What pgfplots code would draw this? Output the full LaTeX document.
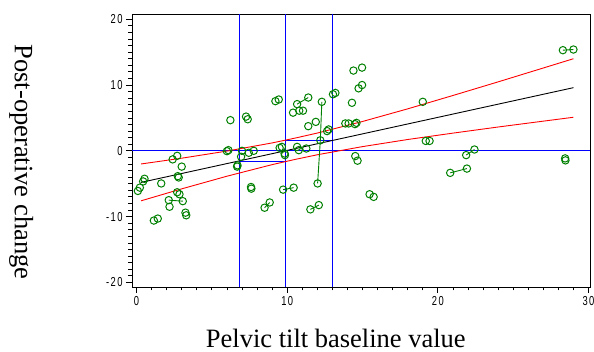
\documentclass[border=0pt]{standalone}
\usepackage{fontspec}
\setmainfont{Liberation Serif}
\setsansfont{Liberation Sans}
\usepackage{graphicx}
\usepackage{xcolor}
\usepackage{pgfplots}
\pgfplotsset{compat=1.18}
\definecolor{sasgreen}{RGB}{0,128,0}
\newcommand\tl[1]{\scalebox{0.72}[1]{\fontsize{13}{13}\selectfont\sffamily #1}}
\begin{document}
\begin{tikzpicture}
\begin{axis}[
  at={(0,0)}, anchor=south west,
  width=458pt, height=273pt, scale only axis,
  xmin=-0.3, xmax=30.1, ymin=-20.7, ymax=20.8,
  xtick={0,10,20,30}, ytick={-20,-10,0,10,20},
  xticklabels={\tl{0},\tl{1\kern2pt0},\tl{2\kern2pt0},\tl{3\kern2pt0}},
  yticklabels={\tl{-\kern2pt2\kern2pt0},\tl{-\kern2pt1\kern2pt0},\tl{0},\tl{1\kern2pt0},\tl{2\kern2pt0}},
  minor tick num=9,
  tick align=outside, tick pos=left,
  major tick length=6pt, minor tick length=3.5pt,
  every tick/.style={black, line width=0.8pt},
  axis line style={black, line width=0.9pt},
  xlabel={Pelvic tilt baseline value},
  ylabel={Post-operative change},
  label style={font=\fontsize{26.5}{30}\selectfont},
  xlabel style={at={(axis description cs:0.445,-0.2198)}, anchor=base},
  ylabel style={at={(axis description cs:-0.242,0.458)}, anchor=center, rotate=180},
  unbounded coords=jump,
]
% reference lines
\addplot[draw=blue, line width=1.2pt, mark=none] coordinates {
(-0.3,0) (30.1,0) (30.1,nan)
(6.83,-20.7) (6.83,20.8) (6.83,nan)
(9.88,-20.7) (9.88,20.8) (9.88,nan)
(13.0,-20.7) (13.0,20.8) (13.0,nan)
(6.83,-1.6) (9.88,-1.6) (9.88,nan)
(9.88,1.6) (13.0,1.6)};
% regression and confidence limits
\addplot[black, line width=0.9pt] coordinates {(0.3,-4.80) (29,9.6)};
\addplot[red, line width=0.9pt] coordinates {
(0.3,-2.00) (3,-1.12) (6,-0.04) (9,1.20) (10.5,1.92) (12,2.70) (15,4.46) (18,6.38) (21,8.41) (24,10.48) (27,12.59) (29,14.00)};
\addplot[red, line width=0.9pt] coordinates {
(0.3,-7.60) (3,-5.78) (6,-3.86) (9,-2.10) (10.5,-1.32) (12,-0.60) (15,0.64) (18,1.72) (21,2.69) (24,3.62) (27,4.51) (29,5.10)};
% data points
\addplot[only marks, mark=o, mark size=3.7pt, sasgreen, mark options={line width=1pt}] coordinates {
(2.7,-0.76) (2.4,-1.3) (3.0,-2.4) (2.74,-3.85) (2.80,-4.05) (0.53,-4.25) (0.44,-4.65)
(1.64,-4.96) (0.22,-5.6) (0.09,-6.1) (2.7,-6.3) (2.85,-6.6) (2.19,-8.5) (3.25,-9.4)
(3.3,-9.8) (1.41,-10.3) (1.15,-10.6) (6.0,-0.05) (6.1,0.1) (6.68,-2.4) (6.7,-2.2)
(6.94,-0.9) (7.0,0.0) (7.45,-0.3) (7.78,0.0) (7.6,-5.5) (7.62,-5.75) (6.23,4.66)
(7.27,5.2) (7.38,4.8) (9.22,7.55) (9.44,7.8) (10.39,5.8) (10.8,6.1) (11.05,6.1)
(13.04,8.6) (13.2,8.8) (14.4,12.2) (14.97,12.65) (14.74,9.5) (14.97,10.0) (14.3,7.3)
(11.4,3.75) (11.9,4.4) (12.65,3.0) (12.75,3.25) (13.86,4.16) (14.08,4.16) (14.5,4.06)
(14.6,4.25) (9.5,0.45) (9.65,0.6) (9.83,-0.4) (9.85,-0.65) (10.66,0.6) (10.77,0.1)
(11.27,0.35) (14.52,-0.8) (14.67,-1.5) (15.47,-6.6) (15.74,-7.0) (19.2,1.5) (19.45,1.5)
(19.0,7.45) (28.45,-1.15) (28.47,-1.45)};
% joined pairs
\pgfplotsset{pair/.style={sasgreen, line width=0.9pt, mark=o, mark size=3.7pt, mark options={line width=1pt}}}
\addplot[pair] coordinates {(2.14,-7.5) (3.07,-7.65)};
\addplot[pair] coordinates {(9.73,-5.9) (10.43,-5.6)};
\addplot[pair] coordinates {(8.5,-8.65) (8.84,-7.85)};
\addplot[pair] coordinates {(11.54,-8.9) (12.1,-8.25)};
\addplot[pair] coordinates {(20.82,-3.35) (21.93,-2.7)};
\addplot[pair] coordinates {(21.88,-0.65) (22.43,0.2)};
\addplot[pair] coordinates {(28.3,15.3) (29.0,15.4)};
\addplot[pair] coordinates {(10.66,7.1) (11.4,8.1)};
\addplot[pair] coordinates {(12.3,7.45) (12.2,1.6) (12.02,-4.96)};
\end{axis}
\pgfresetboundingbox
\path[use as bounding box] (-132pt,-65pt) rectangle (462pt,287pt);
\end{tikzpicture}
\end{document}
